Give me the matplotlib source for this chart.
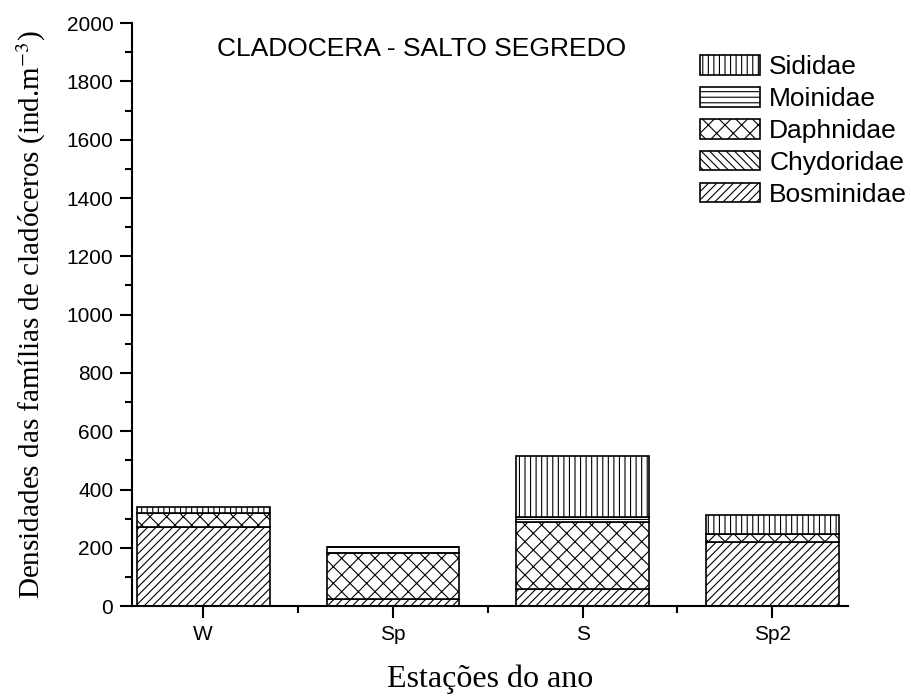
import matplotlib
matplotlib.use("Agg")
import matplotlib.pyplot as plt
from matplotlib.ticker import MultipleLocator
import numpy as np

plt.rcParams["hatch.linewidth"] = 0.8
plt.rcParams["mathtext.fontset"] = "stix"

seasons = ["W", "Sp", "S", "Sp2"]
families = ["Bosminidae", "Chydoridae", "Daphnidae", "Moinidae", "Sididae"]
bosminidae = [270, 26, 58, 221]
chydoridae = [0, 0, 0, 0]
daphnidae = [50, 155, 232, 26]
moinidae = [0, 23, 15, 0]
sididae = [20, 0, 211, 66]
hatches = ["////", "\\\\\\\\", "xx", "---", "|||"]

series = [bosminidae, chydoridae, daphnidae, moinidae, sididae]
x = np.arange(1, len(seasons) + 1)

fig = plt.figure(figsize=(9.11, 7), dpi=100)
ax = fig.add_axes([0.145, 0.134, 0.786, 0.833])

bottom = np.zeros(len(seasons))
handles = []
for name, vals, h in zip(families, series, hatches):
    bars = ax.bar(x, vals, width=0.7, bottom=bottom, color="white",
                  edgecolor="black", linewidth=1.2, hatch=h, label=name)
    handles.append(bars)
    bottom += np.array(vals)

ax.set_xlim(0.625, 4.4)
ax.set_ylim(0, 2000)
ax.set_xticks(x)
ax.set_xticklabels(seasons)
ax.xaxis.set_minor_locator(MultipleLocator(0.5))
ax.yaxis.set_major_locator(MultipleLocator(200))
ax.yaxis.set_minor_locator(MultipleLocator(100))
ax.spines["top"].set_visible(False)
ax.spines["right"].set_visible(False)
ax.spines["left"].set_linewidth(1.5)
ax.spines["bottom"].set_linewidth(1.5)
ax.tick_params(which="major", length=8.5, width=1.5, labelsize=15, pad=5, direction="out")
ax.tick_params(which="minor", length=5, width=1.5, direction="out")
for lab in ax.get_xticklabels() + ax.get_yticklabels():
    lab.set_fontfamily("Liberation Sans")

ax.set_xlabel("Estações do ano", fontfamily="Liberation Serif", fontsize=23, labelpad=15)
ax.set_ylabel("Densidades das famílias de cladóceros (ind.m$^{-3}$)",
              fontfamily="Liberation Serif", fontsize=21, labelpad=13)

ax.text(0.404, 0.955, "CLADOCERA - SALTO SEGREDO", transform=ax.transAxes,
        ha="center", va="center", fontsize=19, fontfamily="Liberation Sans")

leg = ax.legend(handles[::-1], families[::-1], loc="upper right",
                bbox_to_anchor=(1.097, 0.963), frameon=False,
                prop={"family": "Liberation Sans", "size": 19},
                handlelength=2.27, handleheight=0.75, handletextpad=0.34,
                labelspacing=0.3, borderaxespad=0)

fig.savefig("out.png", dpi=100)
